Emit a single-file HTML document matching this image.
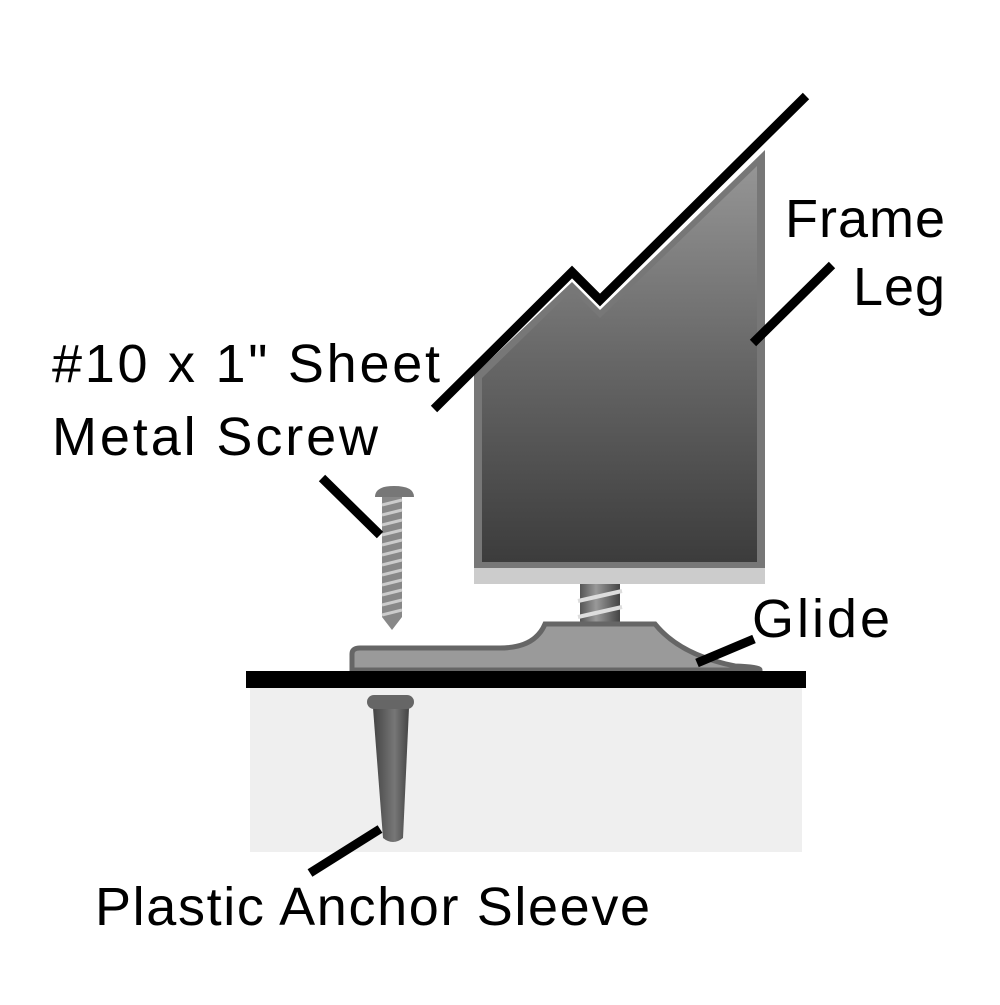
<!DOCTYPE html>
<html><head><style>
body{margin:0;background:#fff;width:1000px;height:1000px;overflow:hidden}
svg text{font-family:"Liberation Sans",sans-serif;fill:#000}
</style></head><body>
<svg width="1000" height="1000" viewBox="0 0 1000 1000">
<defs>
<linearGradient id="g1" x1="0" y1="0" x2="0" y2="1">
<stop offset="0" stop-color="#959595"/><stop offset="0.5" stop-color="#666"/><stop offset="1" stop-color="#3c3c3c"/></linearGradient>
<linearGradient id="g2" x1="0" y1="0" x2="1" y2="0">
<stop offset="0" stop-color="#555"/><stop offset="0.4" stop-color="#999"/><stop offset="1" stop-color="#444"/></linearGradient>
<linearGradient id="g3" x1="0" y1="0" x2="1" y2="0">
<stop offset="0" stop-color="#444"/><stop offset="0.6" stop-color="#777"/><stop offset="1" stop-color="#444"/></linearGradient>
</defs>
<rect x="250" y="688" width="552" height="164" fill="#efefef"/>
<polygon points="474,375 572,282 600,310 765,150 765,568 474,568" fill="#777"/>
<polygon points="482,378 572,290 600,318 757,166 757,562 482,562" fill="url(#g1)"/>
<rect x="474" y="568" width="291" height="16" fill="#ccc"/>
<rect x="580" y="584" width="40" height="40" fill="url(#g2)"/>
<path d="M578 601 L622 591 M578 617 L622 607" stroke="#ddd" stroke-width="4"/>
<path d="M352 670 L352 654 Q352 648 360 648 L500 648 Q535 648 545 624 L655 624 Q680 655 735 666 Q760 667 760 670 Z" fill="#9a9a9a" stroke="#666" stroke-width="5"/>
<rect x="246" y="671" width="560" height="17" fill="#000"/>
<path d="M375 497 Q375 486 394 486 Q414 486 414 497 Z" fill="#777"/>
<rect x="382" y="497" width="20" height="120" fill="#888"/>
<path d="M382 617 L402 617 L392 630 Z" fill="#888"/>
<path d="M382 505 L402 500 M382 515 L402 510 M382 525 L402 520 M382 535 L402 530 M382 545 L402 540 M382 555 L402 550 M382 565 L402 560 M382 575 L402 570 M382 585 L402 580 M382 595 L402 590 M382 605 L402 600 M382 615 L402 610" stroke="#ccc" stroke-width="3"/>
<path d="M373 708 L409 708 L403 838 Q393 846 383 838 Z" fill="url(#g3)"/>
<rect x="367" y="695" width="47" height="14" rx="7" fill="#666"/>
<g stroke="#000" stroke-width="9" fill="none">
<polyline points="434,409 572,272 600,300 806,96"/>
<line x1="322" y1="478" x2="380" y2="535"/>
<line x1="832" y1="265" x2="753" y2="343"/>
<line x1="754" y1="639" x2="697" y2="663"/>
<line x1="310" y1="873" x2="380" y2="829"/>
</g>
<g font-size="54">
<text x="52" y="382" textLength="388" lengthAdjust="spacing">#10 x 1" Sheet</text>
<text x="52" y="455" textLength="326" lengthAdjust="spacing">Metal Screw</text>
<text x="785" y="237" textLength="160" lengthAdjust="spacing">Frame</text>
<text x="853" y="305" textLength="92" lengthAdjust="spacing">Leg</text>
<text x="752" y="637" textLength="138" lengthAdjust="spacing">Glide</text>
<text x="95" y="925" textLength="555" lengthAdjust="spacing">Plastic Anchor Sleeve</text>
</g>
</svg>
</body></html>
